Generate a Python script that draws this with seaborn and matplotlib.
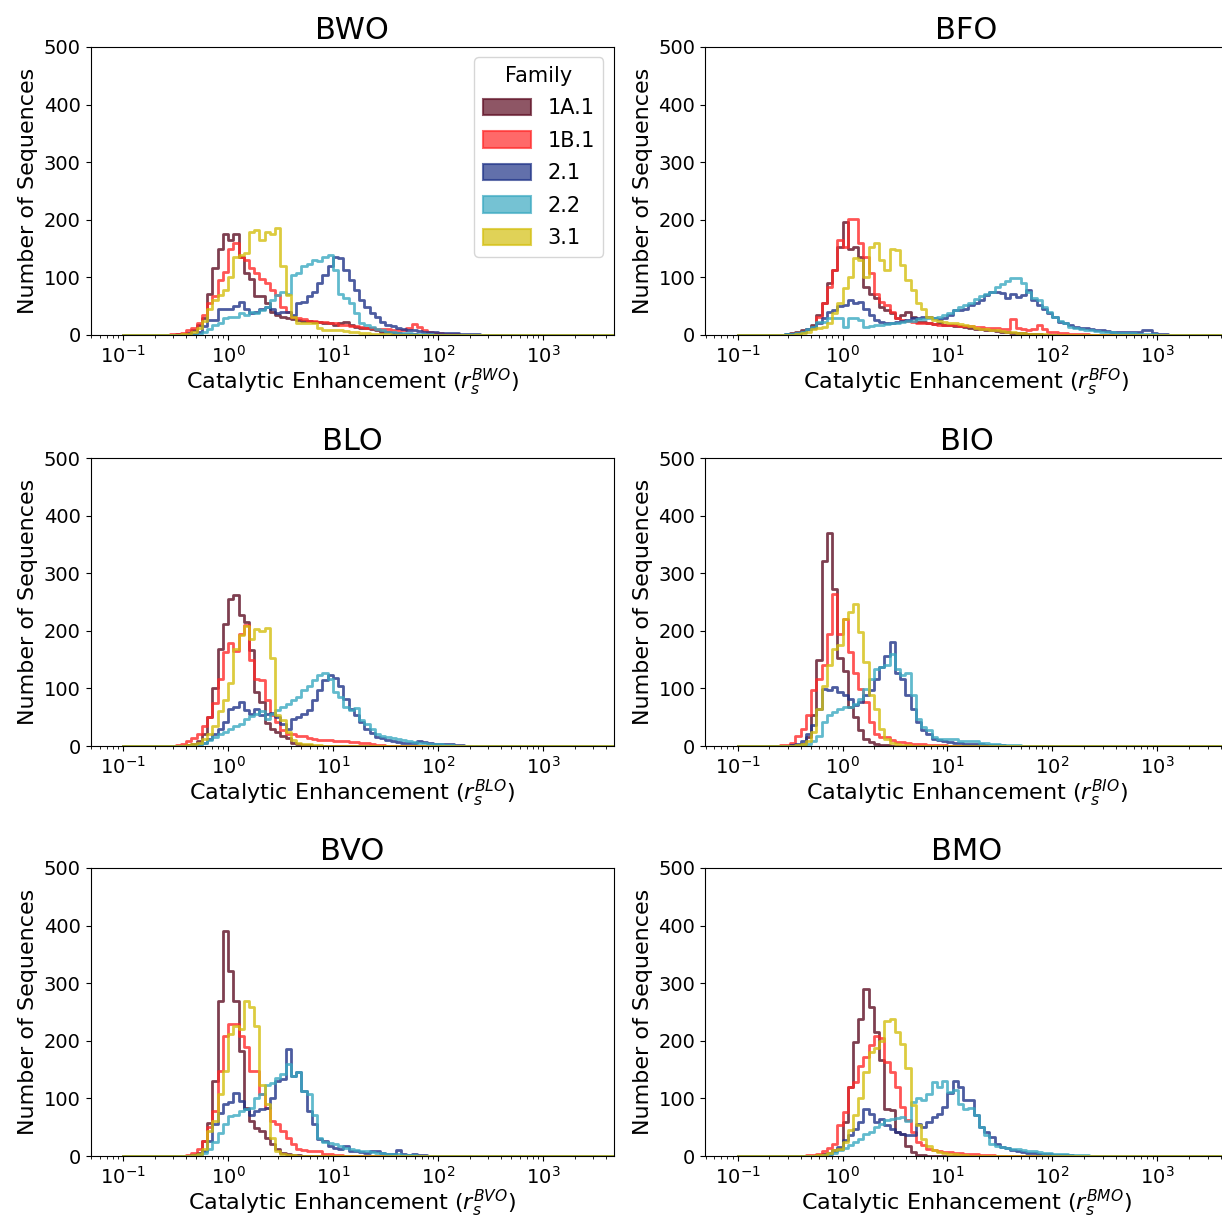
import numpy as np
import pandas as pd
import matplotlib
matplotlib.use("Agg")
import matplotlib.pyplot as plt
from matplotlib.patches import Patch
import seaborn as sns

# histogram bins: 20 per decade from 10^-1 to 10^5 (log10 units for seaborn log_scale)
log_edges = np.linspace(-1, 5, 121)
START_BIN = 8  # every count list below starts at bin 8 (x = 10^-0.6)

families = ["1A.1", "1B.1", "2.1", "2.2", "3.1"]
colors = ["#5e0f24", "#ff2a2a", "#1f3388", "#3aa9c1", "#d4bf10"]
panels = ["BWO", "BFO", "BLO", "BIO", "BVO", "BMO"]

# BWO
bwo_1a1 = [0,0,1,2,4,8,17,30,72,116, 150,176,165,175,136,107,98,67,67,55, 40,35,32,29,27,26,25,24,23,22, 20,20,18,20,22,18,14,12,12,10, 8,6,5,4,3,2,2,1]
bwo_1b1 = [0,1,2,4,8,12,20,35,55,68, 95,110,150,160,136,130,116,107,98,90, 78,69,49,40,32,30,27,25,24,23, 22,21,20,18,17,16,15,14,13,12, 11,10,10,9,9,8,12,19,14,8, 5,4,3,2,1,1]
bwo_21 = [0,0,0,0,0,2,5,15,26,26, 46,46,46,50,58,46,38,40,45,48, 46,38,40,40,35,55,58,67,75,90, 104,119,136,133,113,95,78,61,49,38, 32,23,17,15,12,10,8,8,7,6, 5,5,4,4,3,3,2,2,1,1]
bwo_22 = [0,0,0,0,0,0,2,5,10,18, 20,30,32,32,38,35,40,38,43,49, 61,69,75,72,104,107,119,124,130,128, 136,139,113,72,64,55,38,20,18,14, 10,8,6,5,4,4,3,2,2,1, 1]
bwo_31 = [0,0,0,1,2,5,12,25,45,60, 69,78,100,136,139,142,179,182,165,178, 176,185,119,69,32,20,20,20,20,12, 9,9,9,8,7,6,5,4,3,2, 2,1,1]

# BFO
bfo_1a1 = [0,1,3,5,8,10,18,35,55,90, 113,153,197,150,153,136,84,72,64,49, 43,38,29,35,40,32,23,22,20,19, 20,18,17,16,15,14,12,11,10,9, 8,7,6,5,4,3,3,2,2,1]
bfo_1b1 = [0,0,1,3,6,10,12,32,55,84, 113,165,153,202,202,159,136,107,72,58, 52,40,29,26,24,22,21,20,20,19, 18,18,17,17,16,16,15,14,14,13, 12,12,11,11,28,12,10,9,10,17, 10,6,5,4,3,2,2,1,1]
bfo_21 = [0,1,2,4,6,10,14,20,30,40, 43,50,52,61,55,58,46,35,26,23, 20,20,22,24,26,29,30,32,32,30, 28,30,35,43,43,46,52,55,60,69, 75,75,73,64,72,66,70,78,61,52, 45,38,32,23,20,17,14,12,12,10, 9,8,7,6,6,5,5,5,6,8, 9,4,2,1]
bfo_22 = [0,1,2,4,6,10,14,23,23,29, 29,29,14,29,29,26,14,16,17,18, 19,20,21,22,24,25,27,28,29,30, 32,35,38,43,49,52,55,62,67,72, 75,84,88,93,99,99,90,75,64,61, 49,40,32,25,20,14,12,10,9,8, 7,6,5,5,4,4,3,3,2,2, 1,1]
bfo_31 = [0,0,0,1,3,6,10,12,14,20, 38,55,81,101,133,130,101,153,159,130, 113,150,147,121,95,78,55,46,32,26, 24,22,21,20,19,17,15,13,11,10, 9,8,7,6,5,4,3,2,2,1, 1]

# BLO
blo_1a1 = [0,0,0,0,2,4,8,20,50,100, 169,212,256,263,227,215,166,94,76,40, 30,24,18,14,6,3,2,1]
blo_1b1 = [0,0,2,4,8,14,20,35,50,75, 117,163,178,165,195,210,150,117,114,79, 53,42,27,21,20,18,17,14,12,10, 10,10,9,8,8,7,7,6,5,3, 2,1]
blo_21 = [0,0,0,0,0,1,3,6,12,20, 30,42,65,68,76,62,55,64,53,56, 58,50,38,30,47,50,56,62,79,97, 114,123,118,105,82,64,53,42,30,22, 16,14,10,8,7,6,5,6,8,7, 5,4,4,3,3,2,1]
blo_22 = [0,0,0,0,0,0,2,5,10,15, 20,25,30,35,39,47,52,56,60,47, 56,62,68,73,79,85,97,105,114,123, 126,117,94,85,68,62,66,45,39,30, 21,18,16,14,12,10,8,7,6,5, 4,3,3,2,1]
blo_31 = [0,0,0,0,1,3,6,12,20,35, 60,80,110,169,192,209,186,203,200,205, 152,53,45,24,10,6,4,3,2,1]

# BIO
bio_1a1 = [0,0,1,2,4,15,53,150,322,369, 273,152,130,68,50,27,13,7,3,2, 1]
bio_1b1 = [1,2,6,18,30,53,97,117,140,195, 264,195,221,163,126,99,76,42,21,16, 16,10,7,7,5,4,3,3,2,2, 1,1]
bio_21 = [0,0,1,3,8,20,36,65,99,97, 102,94,88,82,71,77,88,97,117,137, 157,180,126,117,88,65,42,27,21,12, 10,8,7,6,5,4,4,3,3,2, 2,1,1]
bio_22 = [0,0,0,0,1,3,8,18,42,53, 59,65,68,68,73,82,99,117,134,137, 140,160,134,123,126,88,47,33,27,16, 13,13,12,12,8,8,8,8,6,5, 4,3,2,2,1,1]
bio_31 = [0,0,0,1,3,8,24,65,105,140, 169,175,221,232,247,198,146,88,65,30, 13,6,4,2,1]

# BVO
bvo_1a1 = [0,0,0,0,0,2,6,26,58,130, 269,391,321,269,182,84,61,49,43,32, 20,12,5,3,2,1]
bvo_1b1 = [0,0,0,0,2,5,12,26,50,78, 148,208,229,229,208,190,148,148,107,84, 61,55,43,32,20,13,11,9,9,8, 4,3,2,1]
bvo_21 = [0,0,0,0,0,1,3,8,26,55, 75,90,93,110,95,81,72,78,81,84, 101,130,133,185,139,145,113,78,55,29, 26,17,14,12,17,9,8,7,6,8, 8,6,4,4,10,3,2,3,2,1]
bvo_22 = [0,0,0,0,0,0,2,5,12,25, 40,55,69,72,78,82,84,100,107,124, 127,136,142,159,139,145,113,107,72,32, 25,22,20,18,14,12,10,9,8,7, 6,5,4,3,3,2,2,1]
bvo_31 = [0,0,0,0,0,1,3,12,43,61, 107,148,211,226,220,269,258,226,124,90, 32,9,4,2,1]

# BMO
bmo_1a1 = [0,0,0,0,0,0,0,1,3,6, 10,13,59,120,198,238,290,259,215,166, 82,80,42,39,18,7,2,1]
bmo_1b1 = [0,0,0,0,0,1,2,4,8,14, 21,53,76,120,128,157,172,192,209,204, 163,146,120,85,62,42,24,19,12,10, 8,7,7,6,5,4,4,3,2,2, 1]
bmo_21 = [0,0,0,0,0,0,0,0,1,3, 8,15,27,36,47,59,82,73,59,65, 53,47,42,39,36,36,56,50,59,68, 73,85,110,131,120,97,97,71,50,42, 33,21,16,14,10,8,7,6,5,4, 3,3,2,2,1,1]
bmo_22 = [0,0,0,0,0,0,0,0,1,3, 6,10,14,19,25,30,38,42,50,56, 62,65,66,68,60,94,100,97,108,128, 120,131,111,114,90,82,84,71,50,36, 21,18,16,14,13,12,10,9,8,7, 6,5,4,3,3,2,2,1,1]
bmo_31 = [0,0,0,0,0,0,0,1,2,5, 10,13,24,46,71,100,145,181,187,200, 235,238,215,195,152,88,53,30,18,10, 7,5,4,3,2,1]

panel_counts = {
    "BWO": [bwo_1a1, bwo_1b1, bwo_21, bwo_22, bwo_31],
    "BFO": [bfo_1a1, bfo_1b1, bfo_21, bfo_22, bfo_31],
    "BLO": [blo_1a1, blo_1b1, blo_21, blo_22, blo_31],
    "BIO": [bio_1a1, bio_1b1, bio_21, bio_22, bio_31],
    "BVO": [bvo_1a1, bvo_1b1, bvo_21, bvo_22, bvo_31],
    "BMO": [bmo_1a1, bmo_1b1, bmo_21, bmo_22, bmo_31],
}

centers = 10 ** ((log_edges[:-1] + log_edges[1:]) / 2)


def full_counts(lst):
    out = np.zeros(len(centers))
    out[START_BIN:START_BIN + len(lst)] = lst
    return out


W, H = 1222, 1218
fig = plt.figure(figsize=(W / 100, H / 100), dpi=100)

# panel boxes in pixels (left, top); the right column runs slightly past the edge
col_left = [90.5, 705]
row_top = [47, 458, 868]
ax_w, ax_h = 523, 288

axes = []
for r in range(3):
    for c in range(2):
        axes.append(fig.add_axes([col_left[c] / W, 1 - (row_top[r] + ax_h) / H,
                                  ax_w / W, ax_h / H]))

for ax, name in zip(axes, panels):
    for fam, col, lst in zip(families, colors, panel_counts[name]):
        df = pd.DataFrame({"x": centers, "count": full_counts(lst)})
        sns.histplot(data=df, x="x", weights="count", bins=list(log_edges), log_scale=True,
                     element="step", fill=False, color=col, alpha=0.8,
                     linewidth=2, ax=ax)
    ax.set_xlim(0.049, 4700)
    ax.set_ylim(0, 500)
    ax.set_yticks([0, 100, 200, 300, 400, 500])
    ax.set_title(name, fontsize=22)
    ax.set_xlabel(r"Catalytic Enhancement ($r_s^{%s}$)" % name, fontsize=16, labelpad=0)
    ax.set_ylabel("Number of Sequences", fontsize=16)
    ax.tick_params(axis="both", which="major", labelsize=14)

handles = [Patch(facecolor=c, edgecolor=c, alpha=0.7, linewidth=1.5) for c in colors]
axes[0].legend(handles, families, title="Family", loc="upper right",
               fontsize=15, title_fontsize=15, handlelength=2.3,
               handleheight=0.85, labelspacing=0.6)

fig.savefig("out.png", dpi=100)
